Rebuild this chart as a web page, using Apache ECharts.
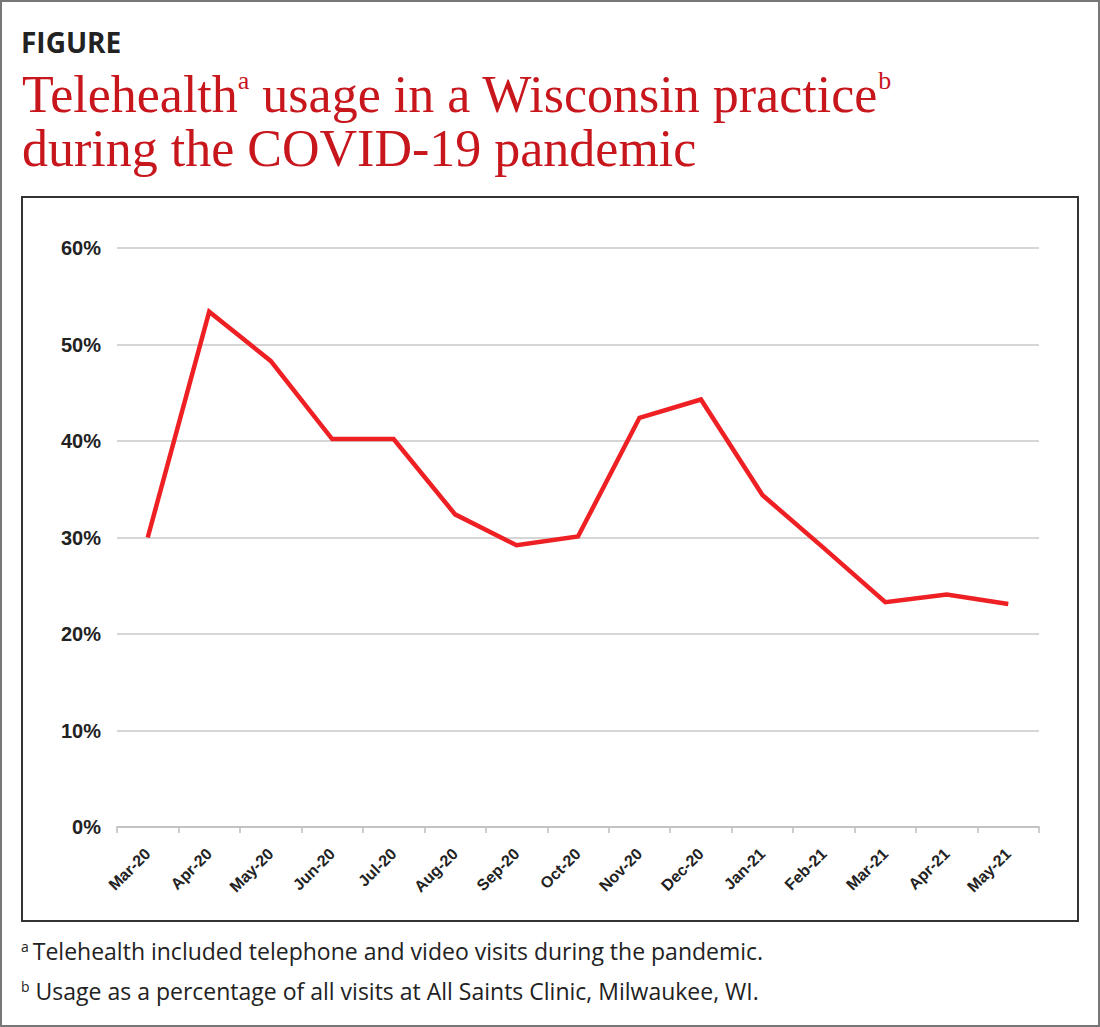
<!DOCTYPE html>
<html><head><meta charset="utf-8">
<script src="https://cdn.jsdelivr.net/npm/echarts@6/dist/echarts.min.js"></script>
<style>html,body{margin:0;padding:0;background:#fff}#c{width:1100px;height:1027px}</style>
</head><body><div id="c"></div>
<script>
const categories = ['Mar-20','Apr-20','May-20','Jun-20','Jul-20','Aug-20','Sep-20','Oct-20','Nov-20','Dec-20','Jan-21','Feb-21','Mar-21','Apr-21','May-21'];
const usage = [30.0, 53.4, 48.3, 40.2, 40.2, 32.4, 29.2, 30.1, 42.4, 44.3, 34.4, 28.9, 23.3, 24.1, 23.1];
const yTicks = [0, 10, 20, 30, 40, 50, 60];

const chart = echarts.init(document.getElementById('c'), null, {renderer: 'svg'});
const red = '#c8161d';
chart.setOption({
  animation: false,
  backgroundColor: '#fff',
  grid: {left: 117, right: 61, top: 248, bottom: 200, containLabel: false},
  xAxis: {
    type: 'category', data: categories, boundaryGap: true,
    axisLine: {lineStyle: {color: '#bdbdbd', width: 1.5}},
    axisTick: {show: true, length: 6, lineStyle: {color: '#bdbdbd', width: 1.5}},
    axisLabel: {rotate: 45, margin: 24, color: '#222', fontFamily: '"Liberation Sans Narrow", "Liberation Sans", Arial', fontWeight: 'bold', fontSize: 16, interval: 0}
  },
  yAxis: {
    type: 'value', min: yTicks[0], max: yTicks[yTicks.length-1], interval: 10,
    axisLine: {show: false}, axisTick: {show: false},
    splitLine: {lineStyle: {color: '#c8c8c8', width: 1.5}},
    axisLabel: {formatter: '{value}%', margin: 16, color: '#222', fontFamily: '"Liberation Sans", Arial', fontWeight: 'bold', fontSize: 20}
  },
  series: [{
    type: 'line', data: usage, showSymbol: false, symbol: 'none',
    lineStyle: {color: '#ee2024', width: 4.5, join: 'miter'}
  }],
  graphic: [
    {type: 'rect', shape: {x: 1, y: 1, width: 1098, height: 1025}, style: {fill: 'none', stroke: '#777', lineWidth: 2}, silent: true, z: -1},
    {type: 'rect', shape: {x: 22, y: 197, width: 1056, height: 724}, style: {fill: 'none', stroke: '#333', lineWidth: 2}, silent: true, z: -1},
    {type: 'text', left: 21, top: 28, style: {text: 'FIGURE', fill: '#222', font: 'bold 28px "Open Sans", sans-serif'}},
    {type: 'text', left: 22, top: 67, style: {
      text: 'Telehealth{s|a} usage in a Wisconsin practice{s|b}\nduring the COVID-19 pandemic',
      fill: red, font: '52px "Liberation Serif", serif', lineHeight: 54,
      rich: {s: {fontSize: 26, fill: red, verticalAlign: 'top', fontFamily: '"Liberation Serif", serif', lineHeight: 54, padding: [0,0,22,0]}}
    }},
    {type: 'text', left: 21, top: 939, style: {
      text: '{s|a}Telehealth included telephone and video visits during the pandemic.',
      fill: '#222', font: '23px "Open Sans", sans-serif',
      rich: {s: {fontSize: 14, fill: '#222', fontFamily: '"Open Sans", sans-serif', padding: [0,4,9,0]}}
    }},
    {type: 'text', left: 21, top: 979, style: {
      text: '{s|b} Usage as a percentage of all visits at All Saints Clinic, Milwaukee, WI.',
      fill: '#222', font: '23px "Open Sans", sans-serif',
      rich: {s: {fontSize: 14, fill: '#222', fontFamily: '"Open Sans", sans-serif', padding: [0,0,9,0]}}
    }}
  ]
});
</script></body></html>
